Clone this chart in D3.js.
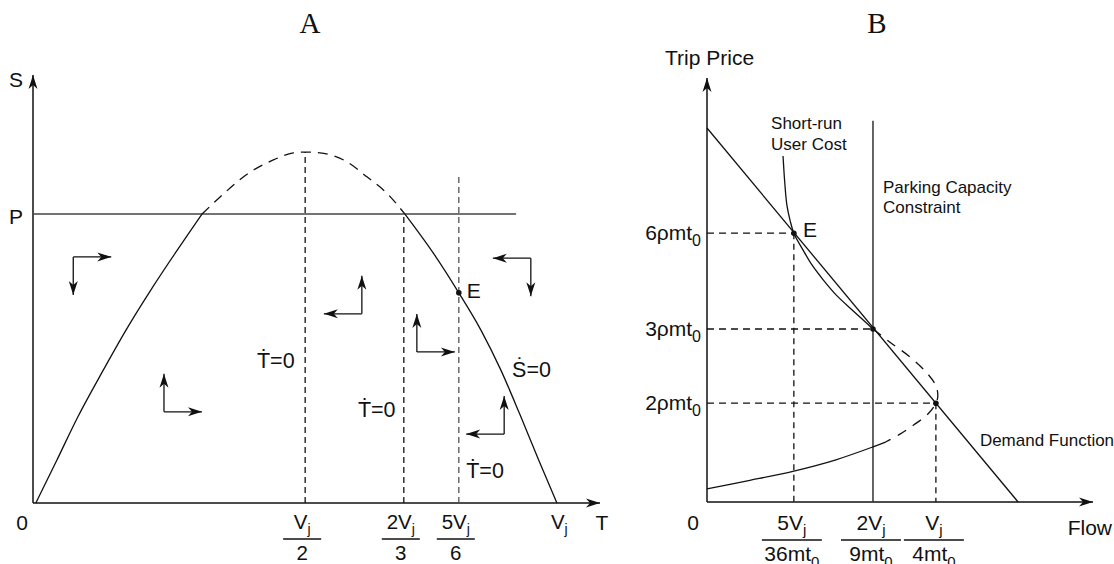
<!DOCTYPE html>
<html>
<head>
<meta charset="utf-8">
<script src="https://cdn.jsdelivr.net/npm/d3@7"></script>
<style>
body { margin: 0; background: #fff; }
text { font-family: "Liberation Sans", Arial, Helvetica, sans-serif; fill: #111; }
.title { font-family: "Liberation Serif", "DejaVu Serif", serif; }
</style>
</head>
<body>
<svg id="chart" width="1114" height="564"></svg>
<script>
// Panel A : phase diagram, T on x, S on y (diagram units 0-100, not to scale)
var aTickVals = [48.0, 65.4, 75.1];
var aTickNum = ["V_j", "2V_j", "5V_j"];
var aTickDen = ["2", "3", "6"];
var aVj = 92.4;
var aP = 67.5;
var aPEnd = 85.2;
var aGuideTops = [82.0, 67.5, 76.9];
// S-dot = 0 curve, split in solid / dashed / solid parts
var aCurveLeft = [[0.5, 0], [4.2, 10.0], [7.9, 20.1], [12.0, 30.1], [16.4, 40.4], [20.8, 49.8],
                  [25.2, 58.6], [29.8, 67.5]];
var aCurveTop = [[29.8, 67.5], [33.0, 71.5], [38.3, 77.3], [42.3, 80.1], [45.9, 81.8], [48.0, 82.0],
                 [50.6, 81.8], [55.4, 79.7], [58.9, 76.2], [62.4, 72.4], [65.6, 67.5]];
var aCurveRight = [[65.6, 67.5], [70.7, 58.2], [75.1, 49.1], [79.0, 40.4], [82.5, 31.1],
                   [85.9, 20.6], [89.2, 10.0], [92.4, 0]];
var aE = [75.1, 49.1];
// direction arrows: corner T, corner S, horizontal sign, vertical sign
var aArrows = [[7.1, 57.5, 1, -1], [23.1, 21.3, 1, 1], [58.0, 44.2, -1, 1],
               [67.7, 35.3, 1, 1], [87.8, 57.2, -1, -1], [83.1, 16.1, -1, 1]];

// Panel B : trip price vs flow (diagram units 0-100, not to scale)
var bTickVals = [22.5, 43.0, 59.3];
var bTickNum = ["5V_j", "2V_j", "V_j"];
var bTickDen = ["36mt_0", "9mt_0", "4mt_0"];
var bPriceVals = [63.4, 40.8, 23.3];
var bPriceLabels = ["6\u03c1mt_0", "3\u03c1mt_0", "2\u03c1mt_0"];
var bDemand = [[0, 88.2], [80.6, 0]];
var bCapacity = 43.0, bCapacityTop = 89.9;
var bCostUpper = [[19.7, 81.6], [20.1, 75.9], [20.7, 70.0], [21.5, 66.5], [22.5, 63.4], [24.9, 59.4],
                  [27.2, 55.9], [30.1, 52.4], [33.5, 48.8], [37.6, 45.3], [43.0, 40.8]];
var bCostBend = [[43.0, 40.8], [47.4, 37.7], [52.6, 34.2], [57.0, 30.4], [59.3, 27.4], [59.8, 25.0],
                 [59.3, 23.3], [57.3, 20.8], [53.6, 18.2], [50.0, 16.0], [46.4, 14.2]];
var bCostLower = [[46.4, 14.2], [43.0, 13.0], [33.2, 9.9], [22.5, 7.3], [11.1, 5.1], [0, 3.1]];
var bPoints = [[22.5, 63.4], [43.0, 40.8], [59.3, 23.3]];

var svg = d3.select("#chart");
var ink = "#111";

svg.append("defs").append("marker")
    .attr("id", "head")
    .attr("viewBox", "-15 -5 15 10")
    .attr("refX", 0).attr("refY", 0)
    .attr("markerWidth", 15).attr("markerHeight", 10)
    .attr("markerUnits", "userSpaceOnUse")
    .attr("orient", "auto")
  .append("path")
    .attr("d", "M0,0L-14,-4.5L-10,0L-14,4.5Z")
    .attr("fill", ink);

var xA = d3.scaleLinear().domain([0, 100]).range([33, 600]);
var yA = d3.scaleLinear().domain([0, 100]).range([503, 75]);
var xB = d3.scaleLinear().domain([0, 100]).range([707, 1093]);
var yB = d3.scaleLinear().domain([0, 100]).range([502, 78]);

function lineGen(x, y, c) {
  return d3.line().x(function (d) { return x(d[0]); }).y(function (d) { return y(d[1]); }).curve(c);
}

// text with "_c" marking a one-character subscript
function rich(sel, str, subSize, subDy) {
  var shift = 0;
  str.split(/(_.)/).filter(Boolean).forEach(function (p) {
    var isSub = p[0] === "_";
    var target = isSub ? subDy : 0;
    var ts = sel.append("tspan").attr("dy", target - shift).text(isSub ? p[1] : p);
    if (isSub) ts.attr("font-size", subSize);
    shift = target;
  });
  return sel;
}

function seg(g, x1, y1, x2, y2, opts) {
  var l = g.append("line").attr("x1", x1).attr("y1", y1).attr("x2", x2).attr("y2", y2)
    .attr("stroke", opts.color || ink).attr("stroke-width", opts.width || 1.3);
  if (opts.dash) l.attr("stroke-dasharray", opts.dash);
  if (opts.head) l.attr("marker-end", "url(#head)");
  return l;
}

function fraction(g, x, num, den, barW, base, size, subSize) {
  rich(g.append("text").attr("x", x).attr("y", base).attr("text-anchor", "middle")
        .attr("font-size", size), num, subSize, 5);
  seg(g, x - barW / 2, base + 10, x + barW / 2, base + 10, { width: 1.3 });
  rich(g.append("text").attr("x", x).attr("y", base + 31).attr("text-anchor", "middle")
        .attr("font-size", size), den, subSize, 6);
}

// ---------- Panel A ----------
var gA = svg.append("g");
gA.append("text").attr("class", "title").attr("x", 310).attr("y", 33)
  .attr("text-anchor", "middle").attr("font-size", 29).text("A");

seg(gA, xA(0), yA(0), xA(0), yA(100), { width: 1.5, head: true });
seg(gA, xA(0), yA(0), xA(100), yA(0), { width: 1.5, head: true });
seg(gA, xA(0), yA(aP), xA(aPEnd), yA(aP), { width: 1.5, color: "#444" });

aTickVals.forEach(function (t, i) {
  seg(gA, xA(t), yA(0), xA(t), yA(aGuideTops[i]),
      { dash: "6,4", width: 1.3, color: i === 2 ? "#555" : ink });
  fraction(gA, xA(t) - 3, aTickNum[i], aTickDen[i], 38, 529, 20.5, 14);
});

var lineA = lineGen(xA, yA, d3.curveMonotoneX);
gA.append("path").attr("d", lineA(aCurveLeft)).attr("fill", "none").attr("stroke", ink).attr("stroke-width", 1.3);
gA.append("path").attr("d", lineA(aCurveTop)).attr("fill", "none").attr("stroke", ink)
  .attr("stroke-width", 1.3).attr("stroke-dasharray", "10,7");
gA.append("path").attr("d", lineA(aCurveRight)).attr("fill", "none").attr("stroke", ink).attr("stroke-width", 1.3);

gA.append("circle").attr("cx", xA(aE[0])).attr("cy", yA(aE[1])).attr("r", 2.8).attr("fill", ink);

aArrows.forEach(function (a) {
  var cx = xA(a[0]), cy = yA(a[1]);
  seg(gA, cx, cy, cx + a[2] * 38, cy, { width: 1.3, head: true });
  seg(gA, cx, cy, cx, cy - a[3] * 38, { width: 1.3, head: true });
});

gA.append("text").attr("x", 16).attr("y", 87).attr("text-anchor", "middle").attr("font-size", 21).text("S");
gA.append("text").attr("x", 16).attr("y", 224).attr("text-anchor", "middle").attr("font-size", 21).text("P");
gA.append("text").attr("x", 22).attr("y", 530).attr("text-anchor", "middle").attr("font-size", 21).text("0");
gA.append("text").attr("x", 602).attr("y", 530).attr("text-anchor", "middle").attr("font-size", 21).text("T");
rich(gA.append("text").attr("x", xA(aVj) - 6).attr("y", 529).attr("font-size", 20.5), "V_j", 14, 5);
gA.append("text").attr("x", xA(76.5)).attr("y", yA(47.9)).attr("font-size", 21).text("E");

[[39.5, 31.5, "\u1e6a=0"], [57.3, 20.1, "\u1e6a=0"], [76.4, 5.8, "\u1e6a=0"], [84.5, 29.4, "\u1e60=0"]]
  .forEach(function (l) {
    gA.append("text").attr("x", xA(l[0])).attr("y", yA(l[1])).attr("font-size", 21.5).text(l[2]);
  });

// ---------- Panel B ----------
var gB = svg.append("g");
gB.append("text").attr("class", "title").attr("x", 877).attr("y", 33)
  .attr("text-anchor", "middle").attr("font-size", 29).text("B");

seg(gB, xB(0), yB(0), xB(0), yB(100), { width: 1.5, head: true });
seg(gB, xB(0), yB(0), xB(100), yB(0), { width: 1.5, head: true });

// dashed guides
bPoints.forEach(function (p) {
  seg(gB, xB(0), yB(p[1]), xB(p[0]), yB(p[1]), { dash: "7,5", width: 1.3 });
  if (p[0] !== bCapacity) seg(gB, xB(p[0]), yB(p[1]), xB(p[0]), yB(0), { dash: "6,4.5", width: 1.3 });
});

seg(gB, xB(bCapacity), yB(0), xB(bCapacity), yB(bCapacityTop), { width: 1.5, color: "#333" });

var lineB = lineGen(xB, yB, d3.curveCatmullRom.alpha(0.5));
gB.append("path").attr("d", lineGen(xB, yB, d3.curveLinear)(bDemand))
  .attr("fill", "none").attr("stroke", ink).attr("stroke-width", 1.3);
gB.append("path").attr("d", lineB(bCostUpper)).attr("fill", "none").attr("stroke", ink).attr("stroke-width", 1.3);
gB.append("path").attr("d", lineB(bCostBend)).attr("fill", "none").attr("stroke", ink)
  .attr("stroke-width", 1.3).attr("stroke-dasharray", "10,8");
gB.append("path").attr("d", lineB(bCostLower)).attr("fill", "none").attr("stroke", ink).attr("stroke-width", 1.3);

gB.selectAll(".pt").data(bPoints).enter().append("circle")
  .attr("cx", function (d) { return xB(d[0]); }).attr("cy", function (d) { return yB(d[1]); })
  .attr("r", 2.8).attr("fill", ink);

bPriceVals.forEach(function (v, i) {
  rich(gB.append("text").attr("x", 701).attr("y", yB(v) + 7).attr("text-anchor", "end")
        .attr("font-size", 21), bPriceLabels[i], 16, 6);
});
bTickVals.forEach(function (t, i) {
  fraction(gB, xB(t) - 2, bTickNum[i], bTickDen[i], 60, 530, 21, 15);
});

gB.append("text").attr("x", 665).attr("y", 65).attr("font-size", 21).text("Trip Price");
gB.append("text").attr("x", 693).attr("y", 530).attr("text-anchor", "middle").attr("font-size", 21).text("0");
gB.append("text").attr("x", 1112).attr("y", 535).attr("text-anchor", "end").attr("font-size", 21).text("Flow");
gB.append("text").attr("x", xB(24.9)).attr("y", yB(62.5)).attr("font-size", 21).text("E");

[[16.6, 88.0, "Short-run"], [16.6, 83.0, "User Cost"], [45.6, 72.9, "Parking Capacity"],
 [45.6, 68.2, "Constraint"], [70.7, 13.2, "Demand Function"]].forEach(function (l) {
  gB.append("text").attr("x", xB(l[0])).attr("y", yB(l[1])).attr("font-size", 17).text(l[2]);
});
</script>
</body>
</html>
